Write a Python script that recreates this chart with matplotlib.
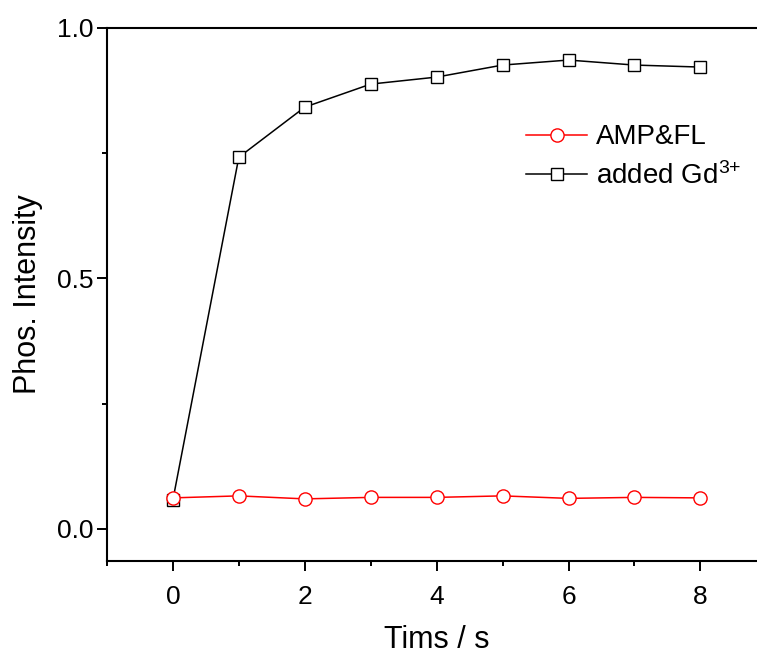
import numpy as np
import matplotlib
matplotlib.use("Agg")
import matplotlib.pyplot as plt
from matplotlib.ticker import MultipleLocator

plt.rcParams['font.family'] = ['Liberation Sans', 'DejaVu Sans']
plt.rcParams['mathtext.fontset'] = 'custom'
plt.rcParams['mathtext.rm'] = 'Liberation Sans'
plt.rcParams['mathtext.it'] = 'Liberation Sans'

# data
time = [0, 1, 2, 3, 4, 5, 6, 7, 8]
amp_fl = [0.062, 0.066, 0.060, 0.063, 0.063, 0.066, 0.061, 0.063, 0.062]
gd_added = [0.058, 0.742, 0.842, 0.888, 0.902, 0.926, 0.936, 0.926, 0.922]

fig = plt.figure(figsize=(7.57, 6.54), dpi=100)
ax = fig.add_axes([0.1413, 0.1422, 0.871, 0.815])

ax.plot(time, gd_added, color='black', lw=1.1, marker='s', ms=8.5,
        mfc='white', mec='black', mew=1.0, label=r'added Gd$^{3{+}}$', zorder=2)
ax.plot(time, amp_fl, color='red', lw=1.1, marker='o', ms=9.5,
        mfc='white', mec='red', mew=1.0, label='AMP&FL', zorder=3)

ax.set_xlim(-1, 9)
ax.set_ylim(-0.064, 1.0)
ax.xaxis.set_major_locator(MultipleLocator(2))
ax.xaxis.set_minor_locator(MultipleLocator(1))
ax.yaxis.set_major_locator(MultipleLocator(0.5))
ax.yaxis.set_minor_locator(MultipleLocator(0.25))
ax.yaxis.set_major_formatter(matplotlib.ticker.FormatStrFormatter('%.1f'))

for s in ax.spines.values():
    s.set_linewidth(1.5)
ax.spines['right'].set_visible(False)
ax.tick_params(which='major', direction='out', length=7, width=1.4, labelsize=19)
ax.tick_params(which='minor', direction='out', length=3.5, width=1.4)
ax.tick_params(axis='x', which='major', pad=10)
ax.tick_params(axis='y', which='major', pad=3)

ax.set_xlabel('Tims / s', fontsize=22, labelpad=12)
ax.set_ylabel('Phos. Intensity', fontsize=22, labelpad=10)

h, l = ax.get_legend_handles_labels()
ax.legend([h[1], h[0]], [l[1], l[0]], loc='upper left', bbox_to_anchor=(0.677, 0.831),
          bbox_transform=fig.transFigure, frameon=False, fontsize=20,
          handlelength=2.2, handletextpad=0.32, labelspacing=0.42, borderpad=0)

fig.savefig('out.png', dpi=100)
